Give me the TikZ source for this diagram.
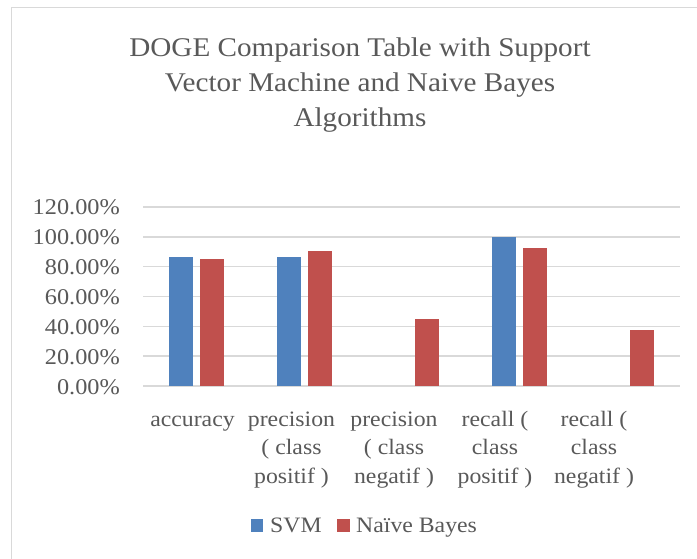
\documentclass[tikz,border=0pt]{standalone}
\usepackage{fontspec}
\setmainfont{Liberation Serif}[FakeStretch=1.08]
\definecolor{svmblue}{HTML}{4F81BD}
\definecolor{nbred}{HTML}{C0504D}
\definecolor{txtgray}{HTML}{595959}
\definecolor{gridgray}{HTML}{D9D9D9}
\definecolor{framegray}{HTML}{D9D9D9}
\tikzset{
  titletext/.style={font=\fontsize{27}{35}\selectfont, text=txtgray, anchor=base, inner sep=0pt},
  ticktext/.style={font=\fontsize{22.5}{28}\selectfont, text=txtgray, anchor=base east, inner sep=0pt},
  cattext/.style={font=\fontsize{22}{28.5}\selectfont, text=txtgray, align=center, anchor=base, inner sep=0pt},
  legtext/.style={font=\fontsize{22}{28}\selectfont, text=txtgray, anchor=base west, inner sep=0pt},
  gridline/.style={draw=gridgray, line width=1.6pt},
}
\begin{document}
\begin{tikzpicture}[x=1pt,y=-1pt]
\useasboundingbox (0,0) rectangle (697,559);
\fill[white] (0,0) rectangle (697,559);
% frame
\draw[framegray, line width=1.6pt] (11.5,559) -- (11.5,7.5) -- (697,7.5);
% title
\node[titletext] (t1) at (360,56.5) {DOGE Comparison Table with Support};
\node[titletext] (t2) at (360,91.5) {Vector Machine and Naive Bayes};
\node[titletext] (t3) at (360,126.5) {Algorithms};
% grid and ticks
\foreach \v/\lab in {0/0.00\%,20/20.00\%,40/40.00\%,60/60.00\%,80/80.00\%,100/100.00\%,120/120.00\%}{
  \pgfmathsetmacro{\yy}{386-\v*1.4917}
  \draw[gridline] (143,\yy) -- (680,\yy);
  \node[ticktext] at (120,\yy+8) {\lab};
}
% bars
\foreach \c/\s/\n in {196.7/86.6/85.4, 304/86.6/90.2, 411.5/0/45.0, 519/100/92.7, 626/0/37.3}{
  \pgfmathsetmacro{\ys}{386-\s*1.4917}
  \pgfmathsetmacro{\yn}{386-\n*1.4917}
  \ifdim\s pt>0pt
    \fill[svmblue] (\c-27.4,386) rectangle (\c-3.4,\ys);
  \fi
  \fill[nbred] (\c+3.6,386) rectangle (\c+27.6,\yn);
}
% category labels (base = last line)
\node[cattext] (c1) at (192.5,426) {accuracy};
\node[cattext] (c2) at (291.5,483) {precision\\( class\\positif )};
\node[cattext] (c3) at (394,483) {precision\\( class\\negatif )};
\node[cattext] (c4) at (495,483) {recall (\\class\\positif )};
\node[cattext] (c5) at (594,483) {recall (\\class\\negatif )};
% legend
\fill[svmblue] (250.7,519) rectangle (263.3,531.6);
\node[legtext] (l1) at (270,532) {SVM};
\fill[nbred] (337.3,519) rectangle (350,531.6);
\node[legtext] (l2) at (356,532) {Naïve Bayes};
\end{tikzpicture}
\end{document}
